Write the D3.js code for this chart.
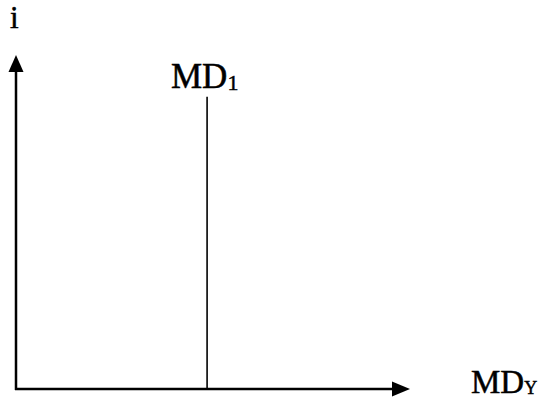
<!DOCTYPE html>
<html><head><meta charset="utf-8">
<script src="https://cdn.jsdelivr.net/npm/d3@7"></script>
<style>html,body{margin:0;padding:0;background:#fff;}svg{display:block;}</style>
</head><body>
<script>
const axisLabels = ["i", "MD"];
const xLabelSub = "Y";
const curveLabel = "MD";
const curveSub = "1";
const mdPosition = [4.85];   // vertical money-demand line position on the x scale
const mdTop = [8.75];        // top of the vertical line on the y scale
const xDomain = [0, 10];
const yDomain = [0, 10];

const W = 541, H = 401;
const svg = d3.select("body").append("svg").attr("width", W).attr("height", H);
const x = d3.scaleLinear().domain(xDomain).range([16, 410]);
const y = d3.scaleLinear().domain(yDomain).range([389, 55]);

function arrowUp(cx, tipY) {
  svg.append("path").attr("d", `M${cx},${tipY} L${cx-7.5},${tipY+17} L${cx+7.5},${tipY+17} Z`).attr("fill", "#000");
}
function arrowRight(tipX, cy) {
  svg.append("path").attr("d", `M${tipX},${cy} L${tipX-18},${cy-7.5} L${tipX-18},${cy+7.5} Z`).attr("fill", "#000");
}

// y axis
svg.append("line").attr("x1", x(0)).attr("x2", x(0)).attr("y1", y(0) + 1).attr("y2", y(10) + 10)
  .attr("stroke", "#000").attr("stroke-width", 2.5);
arrowUp(x(0), y(10));
// x axis
svg.append("line").attr("x1", x(0) - 1).attr("x2", x(10) - 10).attr("y1", y(0)).attr("y2", y(0))
  .attr("stroke", "#000").attr("stroke-width", 2.5);
arrowRight(x(10), y(0));

// MD1 vertical line
svg.selectAll("line.md").data(mdPosition).enter().append("line").attr("class", "md")
  .attr("x1", d => x(d)).attr("x2", d => x(d))
  .attr("y1", y(0)).attr("y2", (d, i) => y(mdTop[i]))
  .attr("stroke", "#000").attr("stroke-width", 1.6);

const font = "'Liberation Serif', 'Times New Roman', serif";
function heavy(sel) { return sel.attr("stroke", "#000").attr("stroke-width", 0.5).attr("fill", "#000"); }
// i label
heavy(svg.append("text").attr("x", 10).attr("y", 28).attr("font-family", font).attr("font-size", 31)
  .text(axisLabels[0]));
// MD1 label
const t1 = heavy(svg.append("text").attr("x", 171).attr("y", 88).attr("font-family", font).attr("font-size", 35));
t1.append("tspan").text(curveLabel);
t1.append("tspan").attr("font-size", 22).attr("dy", 2).text(curveSub);
// MDY label
const t2 = heavy(svg.append("text").attr("x", 471).attr("y", 393).attr("font-family", font).attr("font-size", 33));
t2.append("tspan").text(axisLabels[1]);
t2.append("tspan").attr("font-size", 18).attr("dy", 1).text(xLabelSub);
</script>
</body></html>
